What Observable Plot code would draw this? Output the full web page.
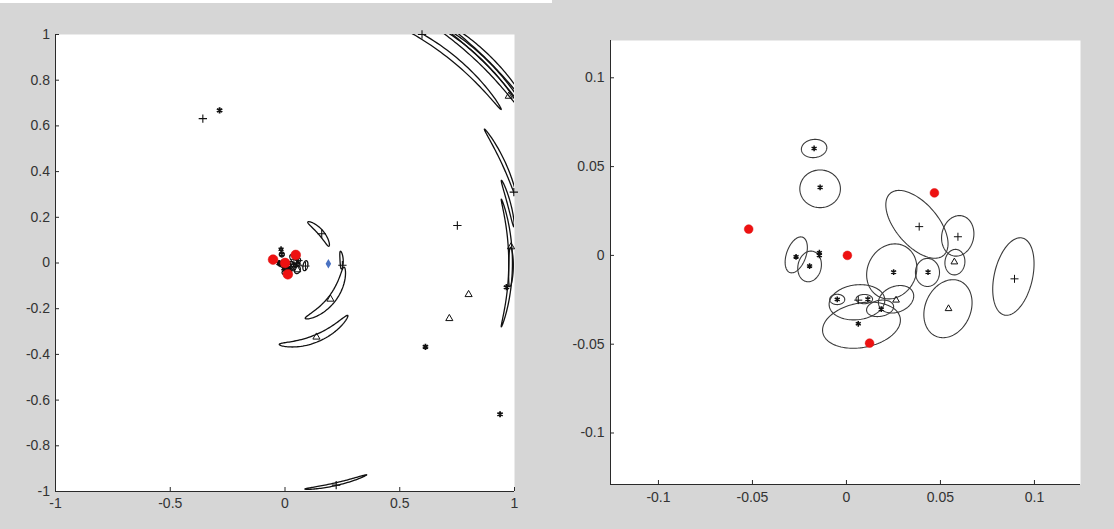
<!DOCTYPE html>
<html><head><meta charset="utf-8">
<script src="https://cdn.jsdelivr.net/npm/d3@7"></script>
<script src="https://cdn.jsdelivr.net/npm/@observablehq/plot@0.6"></script>
<style>
html,body{margin:0;padding:0;background:#d6d6d6;}
#wrap{position:relative;width:1114px;height:529px;overflow:hidden;background:#d6d6d6;}
#left{position:absolute;left:0;top:0;}
#right{position:absolute;left:560px;top:0;}
#strip{position:absolute;left:0;top:0;width:552px;height:3px;background:#fff;}
</style></head><body>
<div id="wrap"><div id="strip"></div><div id="left"></div><div id="right"></div></div>
<script>
// ---- axes ----
const leftDomain = [-1, 1];
const leftXTicks = [-1, -0.5, 0, 0.5, 1];
const leftYTicks = [-1, -0.8, -0.6, -0.4, -0.2, 0, 0.2, 0.4, 0.6, 0.8, 1];
const rightXDomain = [-0.1255, 0.1245];
const rightYDomain = [-0.129, 0.121];
const rightTicks = [-0.1, -0.05, 0, 0.05, 0.1];

// ---- central cluster (right panel, also drawn small in left panel) ----
// uncertainty ellipses: centre, semi-axes, orientation (deg)
const ellCx  = [-0.0172, -0.014, -0.0267, -0.0196, 0.0375, 0.0592, 0.0577, 0.0431, 0.0888, 0.054, 0.0241, 0.0264, -0.0049, 0.0095, 0.0056, 0.0179, 0.008];
const ellCy  = [0.0602, 0.0375, 0.0003, -0.0062, 0.0175, 0.011, -0.0038, -0.0096, -0.0119, -0.030, -0.009, -0.0247, -0.0248, -0.0246, -0.0264, -0.0298, -0.0393];
const ellA   = [0.0068, 0.0108, 0.0105, 0.0087, 0.0225, 0.0115, 0.0072, 0.0079, 0.0222, 0.0168, 0.0158, 0.0098, 0.0040, 0.0044, 0.0149, 0.0073, 0.0210];
const ellB   = [0.0051, 0.0106, 0.0052, 0.0062, 0.0115, 0.0085, 0.0053, 0.0064, 0.0102, 0.0122, 0.0130, 0.0072, 0.0029, 0.0026, 0.0098, 0.0045, 0.0125];
const ellAng = [8, 0, 72, 80, -52, 80, 85, 90, 78, 70, 70, 25, 0, 0, 8, 12, 12];

const redX = [-0.052, 0.0005, 0.0468, 0.0123];
const redY = [0.0148, 0.0, 0.0352, -0.0494];
const plusX = [0.0387, 0.0593, 0.0894, 0.0063];
const plusY = [0.0162, 0.0105, -0.0132, -0.0252];
const starX = [-0.0172, -0.014, -0.0268, -0.0196, -0.0144, -0.0144, 0.0434, 0.0251, -0.0049, 0.0114, 0.0185, 0.0063];
const starY = [0.0602, 0.0383, -0.0008, -0.006, 0.0, 0.0015, -0.0094, -0.0094, -0.0248, -0.0246, -0.0303, -0.0385];
const triX = [0.0574, 0.0543, 0.0264];
const triY = [-0.0037, -0.030, -0.0252];

// ---- left panel only ----
// crescent-shaped regions: radius, radial half-width, centre angle (deg), angular half-width (deg)
const arcR      = [0.205, 0.247, 0.258, 0.357, 0.993, 1.157, 1.226, 1.242, 1.262, 1.048, 1.010, 0.983, 0.985];
const arcDR     = [0.012, 0.007, 0.017, 0.016, 0.006, 0.012, 0.010, 0.008, 0.010, 0.008, 0.007, 0.008, 0.010];
const arcTheta  = [41, 3, -37, -67, -77, 52, 46, 44, 45, 25, 15, 0, -1];
const arcDTheta = [20, 9, 33, 27, 8, 16.5, 12, 11, 10, 9, 6, 16.5, 5];

const farPlusX = [-0.358, 0.751, 0.25, 0.997, 0.223, 0.597, 0.16];
const farPlusY = [0.632, 0.164, -0.01, 0.31, -0.972, 1.0, 0.128];
const farStarX = [-0.285, 0.612, 0.937, 0.965];
const farStarY = [0.668, -0.367, -0.662, -0.106];
const farTriX = [0.80, 0.716, 0.198, 0.137, 0.985, 0.975];
const farTriY = [-0.138, -0.243, -0.158, -0.324, 0.071, 0.73];
const diamondX = [0.189];
const diamondY = [-0.003];

// ---- build tables ----
const pts = (xs, ys) => xs.map((x, i) => ({x, y: ys[i]}));
const N = 120;
const ellRows = ellCx.flatMap((cx, i) => {
  const phi = ellAng[i] * Math.PI / 180, a = ellA[i], b = ellB[i], cy = ellCy[i];
  return d3.range(N + 1).map(k => {
    const t = 2 * Math.PI * k / N;
    return {id: i, x: cx + a * Math.cos(t) * Math.cos(phi) - b * Math.sin(t) * Math.sin(phi),
                   y: cy + a * Math.cos(t) * Math.sin(phi) + b * Math.sin(t) * Math.cos(phi)};
  });
});
const arcRows = arcR.flatMap((r0, i) => d3.range(N + 1).map(k => {
  const t = 2 * Math.PI * k / N;
  const r = r0 + arcDR[i] * Math.cos(t);
  const th = (arcTheta[i] + arcDTheta[i] * Math.sin(t)) * Math.PI / 180;
  return {id: i, x: r * Math.cos(th), y: r * Math.sin(th)};
}));

const fmt = d => String(d);
const style = {background: "transparent", fontFamily: "'Liberation Sans', Arial, sans-serif", fontSize: "14px", color: "#333", overflow: "visible"};

function markerMarks(redR) {
  return [
    Plot.dot(pts(plusX, plusY), {x: "x", y: "y", symbol: "plus", r: 2.7, stroke: "#111", strokeWidth: 1}),
    Plot.dot(pts(starX, starY), {x: "x", y: "y", symbol: "asterisk", r: 2.7, stroke: "#111", strokeWidth: 1.5}),
    Plot.dot(pts(triX, triY), {x: "x", y: "y", symbol: "triangle2", r: 3.2, stroke: "#111", strokeWidth: 1}),
    Plot.dot(pts(redX, redY), {x: "x", y: "y", r: redR, fill: "#ee1111", stroke: "#dd1111", strokeWidth: 0.5})
  ];
}

const left = Plot.plot({
  width: 560, height: 529,
  marginLeft: 55, marginRight: 46, marginTop: 34, marginBottom: 38,
  style,
  x: {domain: leftDomain, label: null},
  y: {domain: leftDomain, label: null},
  marks: [
    Plot.frame({fill: "white", stroke: null}),
    Plot.line(arcRows, {x: "x", y: "y", z: "id", stroke: "#111", strokeWidth: 1.3, clip: true}),
    Plot.line(ellRows, {x: "x", y: "y", z: "id", stroke: "#111", strokeWidth: 1.3}),
    Plot.dot(pts(farPlusX, farPlusY), {x: "x", y: "y", symbol: "plus", r: 2.8, stroke: "#111", strokeWidth: 1.1}),
    Plot.dot(pts(farStarX, farStarY), {x: "x", y: "y", symbol: "asterisk", r: 2.9, stroke: "#111", strokeWidth: 1.8}),
    Plot.dot(pts(farTriX, farTriY), {x: "x", y: "y", symbol: "triangle2", r: 3.4, stroke: "#111", strokeWidth: 1}),
    ...markerMarks(4.9),
    Plot.dot(pts(diamondX, diamondY), {x: "x", y: "y", symbol: "diamond", r: 2.9, fill: "#4a72c2"}),
    Plot.ruleX([leftDomain[0]], {stroke: "#2a2a2a", strokeWidth: 1}),
    Plot.ruleY([leftDomain[0]], {stroke: "#2a2a2a", strokeWidth: 1}),
    Plot.axisX(leftXTicks, {tickSize: -4, tickPadding: 11, tickFormat: fmt, stroke: "#2a2a2a", fill: "#333"}),
    Plot.axisY(leftYTicks, {tickSize: -4, tickPadding: 9.5, tickFormat: fmt, stroke: "#2a2a2a", fill: "#333"})
  ]
});
document.getElementById("left").appendChild(left);

const right = Plot.plot({
  width: 554, height: 529,
  marginLeft: 50, marginRight: 34, marginTop: 40, marginBottom: 45,
  style,
  x: {domain: rightXDomain, label: null},
  y: {domain: rightYDomain, label: null},
  marks: [
    Plot.frame({fill: "white", stroke: null}),
    Plot.line(ellRows, {x: "x", y: "y", z: "id", stroke: "#3a3a3a", strokeWidth: 1.1, clip: true}),
    ...markerMarks(4.4),
    Plot.ruleX([rightXDomain[0]], {stroke: "#2a2a2a", strokeWidth: 1}),
    Plot.ruleY([rightYDomain[0]], {stroke: "#2a2a2a", strokeWidth: 1}),
    Plot.axisX(rightTicks, {tickSize: -4, tickPadding: 11.5, tickFormat: fmt, stroke: "#2a2a2a", fill: "#333"}),
    Plot.axisY(rightTicks, {tickSize: -4, tickPadding: 10, tickFormat: fmt, stroke: "#2a2a2a", fill: "#333"})
  ]
});
document.getElementById("right").appendChild(right);
</script>
</body></html>
